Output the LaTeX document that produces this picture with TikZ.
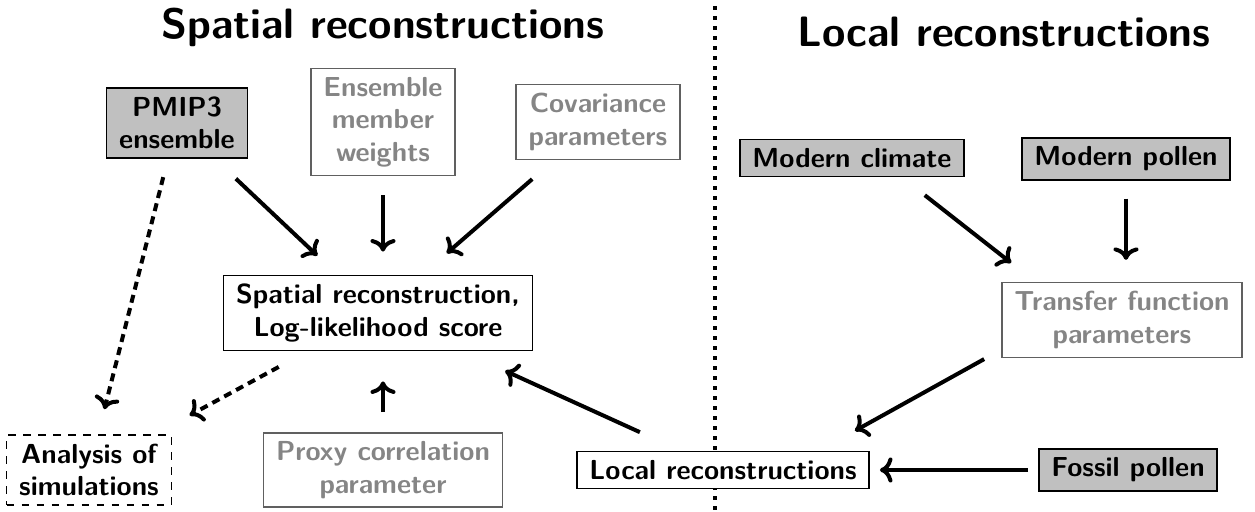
\documentclass[tikz,border=0pt]{standalone}
\usetikzlibrary{arrows.meta,calc}
\definecolor{boxgray}{HTML}{C0C0C0}
\definecolor{paramtext}{HTML}{858585}
\definecolor{paramline}{HTML}{606060}
\begin{document}
\begin{tikzpicture}[x=0.4pt,y=-0.4pt,
  font=\fontsize{11}{13}\selectfont\sffamily\bfseries,
  box/.style={draw,fill=white,line width=0.6pt,align=center,inner xsep=5pt,inner ysep=3.5pt},
  databox/.style={box,fill=boxgray},
  parambox/.style={box,draw=paramline,text=paramtext},
  outbox/.style={box,dashed},
  arr/.style={line width=1.6pt,-{To[length=5pt,width=10pt]}},
  darr/.style={arr,dash pattern=on 3.2pt off 2.2pt},
  titletext/.style={anchor=base,font=\fontsize{17}{20}\selectfont\sffamily\bfseries}]
\useasboundingbox (0,0) rectangle (1255,512);
\node[titletext] (spatialtitle) at (383,39) {Spatial reconstructions};
\node[titletext] (localtitle) at (1004,47) {Local reconstructions};
\draw[line width=1.6pt,dash pattern=on 1.6pt off 2.4pt] (715,6) -- (715,512);
\node[databox] (pmip) at (177,123) {PMIP3\\ensemble};
\node[parambox] (weights) at (383,122) {Ensemble\\member\\weights};
\node[parambox] (covar) at (598,122) {Covariance\\parameters};
\node[box] (spatial) at (378,313) {Spatial reconstruction,\\Log-likelihood score};
\node[outbox] (analysis) at (89,470) {Analysis of\\simulations};
\node[parambox] (proxy) at (383,470) {Proxy correlation\\parameter};
\node[box] (local) at (723,470) {Local reconstructions};
\node[databox] (fossil) at (1128,470) {Fossil pollen};
\node[databox] (mclimate) at (852,158) {Modern climate};
\node[databox] (mpollen) at (1126,159) {Modern pollen};
\node[parambox] (transfer) at (1122,320) {Transfer function\\parameters};
\draw[arr,shorten <=11.6pt,shorten >=11pt] (pmip) -- (spatial);
\draw[arr,shorten <=7.6pt,shorten >=9.2pt] (weights) -- (weights |- spatial.north);
\draw[arr,shorten <=11.6pt,shorten >=13pt] (covar) -- (spatial);
\draw[darr,shorten <=7.6pt,shorten >=10.4pt] (pmip) -- (analysis);
\draw[darr,shorten <=13pt,shorten >=16pt] (spatial) -- (analysis);
\draw[arr,shorten <=8pt,shorten >=12pt] (proxy) -- (proxy |- spatial.south);
\draw[arr,shorten <=18pt,shorten >=18.8pt] (local) -- (spatial);
\draw[arr] ($(transfer.south west)+(-17,1)$) -- ($(local.north east)+(-15,-20)$);
\draw[arr,shorten <=4pt,shorten >=4pt] (fossil) -- (local);
\draw[arr] ($(mclimate.south east)+(-40,18)$) -- ($(transfer.north west)+(10,-19)$);
\draw[arr,shorten <=7.2pt,shorten >=8.8pt] (mpollen) -- (mpollen |- transfer.north);
\end{tikzpicture}
\end{document}
